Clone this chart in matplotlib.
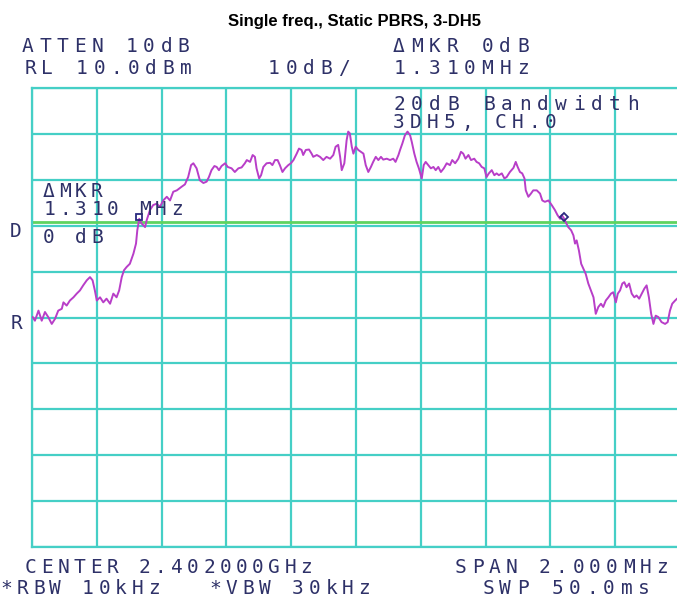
import numpy as np
import matplotlib
matplotlib.use("Agg")
import matplotlib.pyplot as plt

# Sweep: offset from 2.402 GHz centre in MHz, level in dBm
freq_mhz = [
    -0.998, -0.991, -0.980, -0.970, -0.960, -0.950, -0.939, -0.929, -0.919, -0.908,
    -0.903, -0.893, -0.883, -0.872, -0.862, -0.852, -0.842, -0.831, -0.821, -0.813,
    -0.806, -0.800, -0.790, -0.780, -0.770, -0.759, -0.749, -0.739, -0.731, -0.723,
    -0.716, -0.708, -0.698, -0.687, -0.679, -0.675, -0.669, -0.662, -0.651, -0.646,
    -0.636, -0.626, -0.615, -0.605, -0.595, -0.584, -0.574, -0.564, -0.553, -0.538,
    -0.528, -0.518, -0.509, -0.502, -0.492, -0.482, -0.471, -0.461, -0.454, -0.446,
    -0.437, -0.430, -0.423, -0.415, -0.404, -0.396, -0.384, -0.374, -0.363, -0.353,
    -0.343, -0.337, -0.327, -0.319, -0.312, -0.307, -0.299, -0.293, -0.286, -0.276,
    -0.265, -0.258, -0.250, -0.242, -0.235, -0.227, -0.219, -0.209, -0.201, -0.193,
    -0.183, -0.176, -0.168, -0.163, -0.155, -0.145, -0.137, -0.132, -0.121, -0.111,
    -0.101, -0.091, -0.080, -0.070, -0.063, -0.055, -0.049, -0.044, -0.036, -0.029,
    -0.024, -0.019, -0.013, -0.008, -0.001, 0.007, 0.015, 0.023, 0.030, 0.038,
    0.046, 0.053, 0.061, 0.069, 0.077, 0.084, 0.095, 0.105, 0.115, 0.122,
    0.131, 0.136, 0.143, 0.151, 0.159, 0.167, 0.172, 0.180, 0.187, 0.194,
    0.203, 0.209, 0.215, 0.223, 0.231, 0.239, 0.246, 0.254, 0.262, 0.271,
    0.280, 0.290, 0.297, 0.306, 0.316, 0.324, 0.331, 0.338, 0.347, 0.355,
    0.365, 0.372, 0.380, 0.388, 0.396, 0.403, 0.410, 0.419, 0.427, 0.434,
    0.441, 0.450, 0.458, 0.465, 0.475, 0.486, 0.493, 0.499, 0.506, 0.513,
    0.520, 0.524, 0.532, 0.540, 0.547, 0.558, 0.568, 0.575, 0.583, 0.594,
    0.604, 0.614, 0.622, 0.630, 0.635, 0.641, 0.647, 0.655, 0.664, 0.671,
    0.676, 0.681, 0.688, 0.695, 0.702, 0.709, 0.717, 0.725, 0.733, 0.740,
    0.748, 0.756, 0.763, 0.771, 0.779, 0.787, 0.794, 0.802, 0.808, 0.815,
    0.822, 0.828, 0.835, 0.843, 0.851, 0.859, 0.866, 0.874, 0.882, 0.890,
    0.897, 0.904, 0.911, 0.918, 0.925, 0.933, 0.943, 0.954, 0.962, 0.969,
    0.976, 0.985, 0.991, 1.000,
]
level_dbm = [
    -39.9, -40.7, -38.5, -40.7, -38.8, -39.9, -41.4, -40.3, -38.5, -38.1,
    -36.7, -37.4, -36.3, -35.6, -34.8, -34.1, -33.0, -31.9, -31.2, -31.9,
    -34.1, -36.3, -35.6, -36.7, -35.9, -37.0, -34.8, -35.6, -34.1, -31.2,
    -29.7, -29.0, -28.3, -26.1, -23.9, -21.0, -18.5, -19.5, -20.3, -18.8,
    -16.6, -15.5, -15.2, -15.9, -14.5, -13.7, -14.5, -12.6, -12.3, -11.5,
    -11.0, -9.4, -6.8, -6.4, -7.5, -10.1, -10.7, -10.4, -9.4, -7.9,
    -7.0, -7.2, -7.9, -7.0, -6.4, -7.2, -7.5, -8.3, -7.5, -7.3,
    -6.4, -5.7, -6.1, -4.6, -5.0, -7.5, -9.7, -9.0, -7.2, -6.4,
    -6.3, -6.8, -5.7, -5.7, -6.8, -8.3, -7.5, -6.8, -6.4, -5.7,
    -4.3, -3.2, -3.5, -4.6, -3.5, -3.4, -4.3, -5.0, -4.6, -5.0,
    -5.7, -5.0, -5.4, -4.6, -2.8, -2.4, -5.0, -7.9, -6.4, -1.4,
    0.5, 0.1, -2.8, -4.3, -2.8, -3.5, -3.9, -4.3, -6.8, -8.3,
    -7.2, -6.1, -5.0, -5.7, -5.0, -5.6, -5.4, -5.7, -5.4, -6.1,
    -4.6, -3.5, -2.1, -0.3, 0.5, -0.3, -1.7, -4.3, -6.1, -7.5,
    -9.7, -6.8, -6.1, -6.8, -7.5, -7.2, -7.9, -7.2, -8.3, -7.5,
    -6.4, -6.8, -5.7, -6.4, -5.4, -3.9, -4.3, -5.4, -4.6, -5.7,
    -5.4, -6.1, -6.4, -7.2, -7.5, -9.4, -8.6, -7.9, -9.0, -8.6,
    -9.0, -8.6, -9.7, -9.4, -8.3, -7.4, -6.1, -7.2, -8.3, -8.6,
    -9.7, -12.3, -13.7, -13.0, -12.3, -12.3, -13.0, -14.5, -14.8, -14.5,
    -15.5, -16.6, -17.7, -18.5, -17.7, -18.3, -19.2, -20.3, -21.0, -22.1,
    -23.9, -23.2, -25.4, -28.3, -29.4, -30.5, -32.6, -34.1, -35.6, -39.2,
    -37.7, -37.0, -37.7, -36.3, -35.6, -34.8, -34.5, -36.7, -34.8, -34.1,
    -32.6, -32.3, -33.4, -32.6, -34.8, -35.6, -35.2, -35.9, -34.8, -33.7,
    -33.0, -35.6, -39.2, -41.4, -39.6, -39.9, -41.0, -41.4, -41.0, -38.5,
    -37.0, -36.3, -35.9, -35.5,
]

ref_level = 10.0       # dBm, top of screen
db_per_div = 10.0
display_line = -19.2   # dBm, 20 dB down from the peak
mkr_ref = -0.669       # MHz, reference marker
mkr_delta = 1.310      # MHz
mkr_level = -18.1

title = "Single freq., Static PBRS, 3-DH5"
header_left = ["ATTEN 10dB", "RL 10.0dBm"]
scale_label = "10dB/"
header_right = ["\u0394MKR 0dB", "1.310MHz"]
note_lines = ["20dB Bandwidth", "3DH5, CH.0"]
mkr_box = ["\u0394MKR", "1.310 MHz", "0 dB"]
footer = ["CENTER 2.402000GHz", "SPAN 2.000MHz", "*RBW 10kHz", "*VBW 30kHz", "SWP 50.0ms"]

W, H = 677, 602
GRID = "#45cfc6"
TRACE = "#b83ec8"
TXT = "#2e3168"

fig = plt.figure(figsize=(W / 100, H / 100), dpi=100)
fig.patch.set_facecolor("white")

# screen area, right edge runs just past the picture
left, right, top, bottom = 32, 680, 88, 547
ax = fig.add_axes([left / W, 1 - bottom / H, (right - left) / W, (bottom - top) / H])
ax.set_xlim(-1.0, 1.0)
ax.set_ylim(ref_level - 10 * db_per_div, ref_level)
ax.set_xticks(np.linspace(-1.0, 1.0, 11))
ax.set_yticks(np.linspace(ref_level - 10 * db_per_div, ref_level, 11))
ax.tick_params(length=0, labelbottom=False, labelleft=False)
ax.grid(True, color=GRID, linewidth=1.6)
for sp in ax.spines.values():
    sp.set_color(GRID)
    sp.set_linewidth(1.6)
ax.set_axisbelow(True)

ax.axhline(display_line, color="#5fd35f", linewidth=2.0, zorder=2)
ax.plot(freq_mhz, level_dbm, color=TRACE, linewidth=1.4, zorder=3)

# delta marker pair
ax.plot([mkr_ref], [mkr_level], marker="s", ms=4.5, mfc="none", mec="#2a2a80", mew=1.3, zorder=4)
ax.plot([mkr_ref + mkr_delta], [mkr_level], marker="D", ms=4.5, mfc="none", mec="#2a2a80", mew=1.3, zorder=4)


def spaced(x, y, s, pitch=16.5, size=14):
    # fixed-pitch screen text, x is the centre of the first character
    for i, ch in enumerate(s):
        fig.text((x + i * pitch) / W, 1 - y / H, ch, ha="center", va="baseline",
                 family="DejaVu Sans Mono", fontsize=size, color=TXT)


fig.text(355 / W, 1 - 26 / H, title, ha="center", va="baseline",
         family="Liberation Sans", fontweight="bold", fontsize=12, color="black")

spaced(28, 52, header_left[0], pitch=17.3)
spaced(30, 74, header_left[1], pitch=17.3)
spaced(274, 74, scale_label, pitch=17.5)
spaced(399, 52, header_right[0], pitch=17.7)
spaced(399, 74, header_right[1], pitch=17.7)
spaced(399, 110, note_lines[0], pitch=18.0)
spaced(399, 128, note_lines[1], pitch=16.9)

spaced(49, 197, mkr_box[0], pitch=16)
spaced(49, 215, mkr_box[1], pitch=16)
spaced(49, 243, mkr_box[2], pitch=16)
spaced(16, 237, "D")
spaced(16, 329, "R")

spaced(31, 573, footer[0], pitch=16.2)
spaced(461, 573, footer[1], pitch=16.75)
spaced(6, 594, footer[2], pitch=16.4)
spaced(215, 594, footer[3], pitch=16.6)
spaced(488, 594, footer[4], pitch=17.3)

fig.savefig("out.png", dpi=100)
